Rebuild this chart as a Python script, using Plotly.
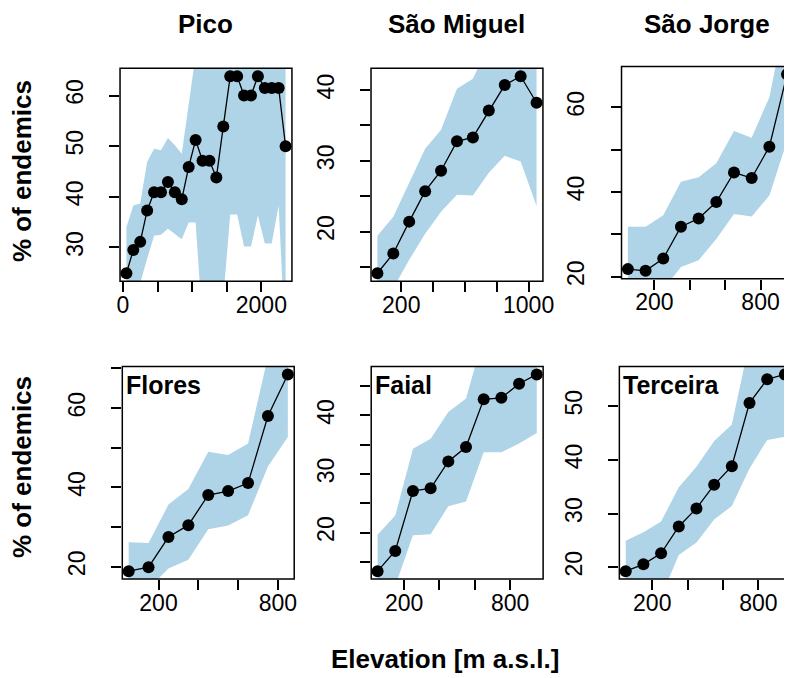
import plotly.graph_objects as go

# ---------------- data ----------------
pico_elev = [50, 150, 250, 350, 450, 550, 650, 750, 850, 950, 1050, 1150,
             1250, 1350, 1450, 1550, 1650, 1750, 1850, 1950, 2050, 2150, 2250, 2350]
pico_pct = [24.9, 29.5, 31.1, 37.3, 40.9, 40.9, 42.9, 40.9, 39.5, 45.9, 51.2, 47.1,
            47.1, 43.8, 53.9, 63.8, 63.8, 60.0, 60.0, 63.8, 61.5, 61.5, 61.5, 50.0]
pico_upper = [34.0, 38.3, 38.7, 46.9, 49.5, 49.2, 51.6, 50.2, 48.5, 58.0, 68.0, 72.0,
              75.0, 76.0, 78.0, 80.0, 80.0, 80.0, 80.0, 80.0, 80.0, 80.0, 80.0, 80.0]
pico_lower = [17.0, 21.0, 23.0, 27.8, 32.3, 32.5, 33.7, 32.7, 31.6, 34.9, 34.9, 15.0,
              15.0, 15.0, 20.0, 36.5, 36.5, 30.2, 30.2, 36.3, 30.8, 30.8, 38.3, 10.0]

smig_elev = [50, 150, 250, 350, 450, 550, 650, 750, 850, 950, 1050]
smig_pct = [14.1, 16.9, 21.4, 25.7, 28.6, 32.75, 33.3, 37.1, 40.7, 41.95, 38.2]
smig_upper = [19.4, 22.1, 26.9, 31.7, 34.4, 40.2, 41.6, 46.4, 48.0, 50.0, 50.0]
smig_lower = [9.0, 12.0, 16.0, 19.7, 22.8, 25.2, 25.1, 28.3, 30.7, 29.9, 23.6]

sjor_elev = [50, 150, 250, 350, 450, 550, 650, 750, 850, 950]
sjor_pct = [21.8, 21.4, 24.3, 31.8, 33.75, 37.65, 44.6, 43.3, 50.7, 67.8]
sjor_upper = [31.8, 31.8, 34.5, 42.4, 43.5, 46.8, 54.4, 52.8, 62.4, 83.0]
sjor_lower = [16.0, 16.5, 17.0, 22.3, 23.9, 28.9, 34.8, 34.2, 39.2, 52.0]

flor_elev = [50, 150, 250, 350, 450, 550, 650, 750, 850]
flor_pct = [18.9, 19.9, 27.5, 30.5, 38.1, 39.1, 41.1, 58.0, 68.5]
flor_upper = [26.2, 26.0, 35.7, 39.6, 49.0, 48.2, 51.1, 73.0, 80.0]
flor_lower = [13.0, 14.5, 19.6, 21.8, 29.5, 30.4, 33.0, 45.3, 52.7]

faia_elev = [50, 150, 250, 350, 450, 550, 650, 750, 850, 950]
faia_pct = [13.4, 16.85, 27.1, 27.55, 32.15, 34.6, 42.75, 43.0, 45.4, 47.0]
faia_upper = [19.6, 22.9, 34.3, 36.0, 40.6, 42.9, 53.6, 55.0, 56.0, 57.0]
faia_lower = [9.0, 10.9, 19.55, 19.7, 24.5, 25.3, 33.7, 33.7, 35.2, 37.0]

terc_elev = [50, 150, 250, 350, 450, 550, 650, 750, 850, 950]
terc_pct = [19.27, 20.55, 22.6, 27.6, 30.95, 35.35, 38.8, 50.6, 55.0, 55.9]
terc_upper = [24.95, 26.5, 28.5, 34.9, 38.7, 43.5, 46.6, 62.0, 66.0, 66.0]
terc_lower = [12.0, 14.0, 14.5, 22.3, 24.6, 28.9, 31.4, 38.4, 43.7, 44.3]

# tick values / labels
pico_xt = [0, 500, 1000, 1500, 2000]
pico_xl = ["0", "", "", "", "2000"]
pico_yt = [30, 40, 50, 60]
pico_yl = ["30", "40", "50", "60"]
smig_xt = [200, 400, 600, 800, 1000]
smig_xl = ["200", "", "", "", "1000"]
smig_yt = [15, 20, 25, 30, 35, 40]
smig_yl = ["", "20", "", "30", "", "40"]
low_xt = [200, 400, 600, 800]
low_xl = ["200", "", "", "800"]
sjor_yt = [20, 30, 40, 50, 60]
sjor_yl = ["20", "", "40", "", "60"]
flor_yt = [20, 30, 40, 50, 60, 70]
flor_yl = ["20", "", "40", "", "60", ""]
faia_yt = [15, 20, 25, 30, 35, 40, 45]
faia_yl = ["", "20", "", "30", "", "40", ""]
terc_yt = [20, 30, 40, 50]
terc_yl = ["20", "30", "40", "50"]

island_names = ["Pico", "São Miguel", "São Jorge", "Flores", "Faial", "Terceira"]
y_title = "% of endemics"
x_title = "Elevation [m a.s.l.]"

# ---------------- layout (pixels) ----------------
W, H = 792, 678
PW = 175  # panel width in px
panels = [
    # name, x, y, up, low, xt, xl, yt, yl, left px, top px, bottom px, title inside
    (island_names[0], pico_elev, pico_pct, pico_upper, pico_lower, pico_xt, pico_xl, pico_yt, pico_yl, 111, 61, 276, False),
    (island_names[1], smig_elev, smig_pct, smig_upper, smig_lower, smig_xt, smig_xl, smig_yt, smig_yl, 366.5, 61, 276, False),
    (island_names[2], sjor_elev, sjor_pct, sjor_upper, sjor_lower, low_xt, low_xl, sjor_yt, sjor_yl, 621.5, 59, 273.5, False),
    (island_names[3], flor_elev, flor_pct, flor_upper, flor_lower, low_xt, low_xl, flor_yt, flor_yl, 113.3, 362.3, 577, True),
    (island_names[4], faia_elev, faia_pct, faia_upper, faia_lower, low_xt, low_xl, faia_yt, faia_yl, 366.7, 362.3, 577, True),
    (island_names[5], terc_elev, terc_pct, terc_upper, terc_lower, low_xt, low_xl, terc_yt, terc_yl, 619.3, 362.3, 577, True),
]

BAND = "#afd4e8"
FONT = "Liberation Sans, Arial, Helvetica, sans-serif"

fig = go.Figure()
shapes = []
annotations = []

def px_x(v):
    return v / W

def px_y(v):
    return 1 - v / H

for i, (name, xs, ys, up, lo, xt, xl, yt, yl, left, top, bottom, inside) in enumerate(panels):
    k = "" if i == 0 else str(i + 1)
    xa, ya = "x" + k, "y" + k
    # R-style 4% range extension
    xr = max(xs) - min(xs)
    x0, x1 = min(xs) - 0.04 * xr, max(xs) + 0.04 * xr
    yr = max(ys) - min(ys)
    y0, y1 = min(ys) - 0.04 * yr, max(ys) + 0.04 * yr
    right = left + PW
    vis_right = min(right, W)
    x1_vis = x0 + (vis_right - left) * (x1 - x0) / PW

    fig.add_trace(go.Scatter(
        x=list(xs) + list(xs)[::-1], y=list(up) + list(lo)[::-1],
        fill="toself", fillcolor=BAND, line=dict(width=0), mode="lines",
        hoverinfo="skip", showlegend=False, xaxis=xa, yaxis=ya))
    fig.add_trace(go.Scatter(
        x=xs, y=ys, mode="lines+markers",
        line=dict(color="black", width=1.3),
        marker=dict(color="black", size=12),
        cliponaxis=False, showlegend=False, xaxis=xa, yaxis=ya))

    axcommon = dict(showgrid=False, zeroline=False, showline=False,
                    ticks="outside", ticklen=10, tickwidth=1.5, tickcolor="black",
                    tickfont=dict(family=FONT, size=23, color="black"))
    fig.layout["xaxis" + k] = dict(
        domain=[px_x(left), px_x(vis_right)], range=[x0, x1_vis],
        anchor=ya, tickmode="array", tickvals=xt, ticktext=xl,
        ticklabelstandoff=-7, **axcommon)
    fig.layout["yaxis" + k] = dict(
        domain=[px_y(bottom), px_y(top)], range=[y0, y1],
        anchor=xa, tickmode="array", tickvals=yt, ticktext=yl, tickangle=-90,
        ticklabelstandoff=17, **axcommon)

    shapes.append(dict(type="rect", xref="paper", yref="paper",
                       x0=px_x(left), x1=px_x(right), y0=px_y(bottom), y1=px_y(top),
                       line=dict(color="black", width=1.5), layer="above"))
    if inside:
        annotations.append(dict(text="<b>" + name + "</b>", xref="paper", yref="paper",
                                x=px_x(left + 2), y=px_y(top + 19), xanchor="left", yanchor="middle",
                                showarrow=False, font=dict(family=FONT, size=25, color="black")))
    else:
        annotations.append(dict(text="<b>" + name + "</b>", xref="paper", yref="paper",
                                x=px_x(left + PW / 2), y=px_y(1), xanchor="center", yanchor="top",
                                height=28, valign="middle", borderpad=0,
                                showarrow=False, font=dict(family=FONT, size=26, color="black")))

for yc in (165, 464):
    annotations.append(dict(text="<b>" + y_title + "</b>", xref="paper", yref="paper",
                            x=px_x(11), y=px_y(yc), xanchor="center", yanchor="middle",
                            textangle=-90, showarrow=False,
                            font=dict(family=FONT, size=26, color="black")))
annotations.append(dict(text="<b>" + x_title + "</b>", xref="paper", yref="paper",
                        x=px_x(442), y=px_y(658), xanchor="center", yanchor="middle",
                        showarrow=False, font=dict(family=FONT, size=26, color="black")))

fig.update_layout(width=W, height=H, margin=dict(l=0, r=0, t=0, b=0),
                  paper_bgcolor="white", plot_bgcolor="white",
                  shapes=shapes, annotations=annotations, showlegend=False)

fig.write_html("out.html")
